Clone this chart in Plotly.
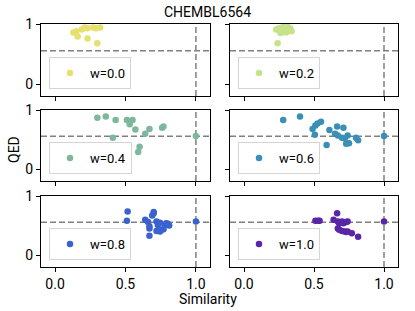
import plotly.graph_objects as go

# ---- data ----
weights = ["w=0.0", "w=0.2", "w=0.4", "w=0.6", "w=0.8", "w=1.0"]
colors = ["#e6e16e", "#c6e38c", "#7db89c", "#3a8fb7", "#3a62cf", "#5b25a8"]

sim_w00 = [0.13, 0.15, 0.16, 0.19, 0.21, 0.23, 0.23, 0.27, 0.30, 0.29, 0.32]
qed_w00 = [0.86, 0.88, 0.79, 0.91, 0.94, 0.93, 0.76, 0.94, 0.68, 0.93, 0.94]

sim_w02 = [0.23, 0.26, 0.29, 0.33, 0.34, 0.28, 0.24, 0.25, 0.31, 0.27, 0.30]
qed_w02 = [0.91, 0.85, 0.88, 0.93, 0.88, 0.96, 0.68, 0.93, 0.96, 0.90, 0.86]

sim_w04 = [0.30, 0.36, 0.43, 0.51, 0.53, 0.55, 0.53, 0.57, 0.64, 0.67, 0.76, 0.77, 0.41, 0.60, 0.59, 1.0]
qed_w04 = [0.87, 0.89, 0.83, 0.83, 0.81, 0.83, 0.76, 0.67, 0.60, 0.68, 0.70, 0.72, 0.53, 0.38, 0.29, 0.56]

sim_w06 = [0.28, 0.40, 0.49, 0.51, 0.525, 0.55, 0.506, 0.59, 0.61, 0.65, 0.665, 0.71, 0.67, 0.70, 0.72,
           0.74, 0.73, 0.75, 0.80, 0.815, 1.0]
qed_w06 = [0.83, 0.89, 0.68, 0.74, 0.77, 0.80, 0.58, 0.41, 0.66, 0.60, 0.72, 0.70, 0.57, 0.53, 0.52,
           0.57, 0.43, 0.44, 0.53, 0.49, 0.56]

sim_w08 = [0.515, 0.51, 0.64, 0.66, 0.67, 0.67, 0.67, 0.69, 0.70, 0.70, 0.72, 0.73, 0.745, 0.757, 0.77,
           0.78, 0.79, 0.80, 0.81, 0.72, 0.745, 1.0]
qed_w08 = [0.74, 0.58, 0.60, 0.56, 0.45, 0.33, 0.49, 0.67, 0.71, 0.73, 0.57, 0.51, 0.55, 0.43, 0.44,
           0.51, 0.54, 0.53, 0.50, 0.41, 0.40, 0.57]

sim_w10 = [0.51, 0.53, 0.54, 0.64, 0.665, 0.67, 0.68, 0.70, 0.71, 0.73, 0.74, 0.67, 0.68, 0.70, 0.72,
           0.73, 0.74, 0.77, 0.815, 1.0]
qed_w10 = [0.58, 0.58, 0.58, 0.60, 0.71, 0.57, 0.54, 0.57, 0.54, 0.56, 0.57, 0.45, 0.43, 0.41, 0.40,
           0.39, 0.40, 0.37, 0.31, 0.57]

sims = [sim_w00, sim_w02, sim_w04, sim_w06, sim_w08, sim_w10]
qeds = [qed_w00, qed_w02, qed_w04, qed_w06, qed_w08, qed_w10]

ref_sim = 1.0
ref_qed = 0.555

x_ticks = [0.0, 0.5, 1.0]
x_ticktext = ["0.0", "0.5", "1.0"]
y_ticks = [0, 1]
y_ticktext = ["0", "1"]

# ---- layout geometry ----
W, H = 415, 311
ML, MR, MT, MB = 41, 17, 24, 44
PW = W - ML - MR
PH = H - MT - MB

col_px = [(41, 210), (230, 398)]
row_px = [(24, 96), (110, 181), (196, 267)]

def px2paper_x(px):
    return (px - ML) / PW

def px2paper_y(py):
    return (H - MB - py) / PH

FONT = "Roboto"
fig = go.Figure()
layout = dict(
    width=W, height=H,
    margin=dict(l=ML, r=MR, t=MT, b=MB),
    paper_bgcolor="white", plot_bgcolor="white",
    font=dict(family=FONT, size=14, color="black"),
    showlegend=True,
)
shapes = []

for i in range(6):
    r, c = divmod(i, 2)
    n = i + 1
    sfx = "" if n == 1 else str(n)
    xa, ya = "x" + sfx, "y" + sfx
    leg = "legend" + sfx
    fig.add_trace(go.Scatter(
        x=sims[i], y=qeds[i], mode="markers", name=weights[i],
        marker=dict(color=colors[i], size=6.5, line=dict(width=0)),
        xaxis=xa, yaxis=ya, legend=leg,
    ))
    x0, x1 = col_px[c]
    y0, y1 = row_px[r]
    layout["xaxis" + sfx] = dict(
        domain=[px2paper_x(x0), px2paper_x(x1)], anchor=ya,
        range=[-0.1, 1.1], tickvals=x_ticks, ticktext=x_ticktext,
        showticklabels=(r == 2), ticks="outside", ticklen=4, tickwidth=1, tickcolor="black",
        showline=True, linecolor="black", linewidth=1, mirror=True,
        showgrid=False, zeroline=False, tickfont=dict(size=14),
    )
    layout["yaxis" + sfx] = dict(
        domain=[px2paper_y(y1), px2paper_y(y0)], anchor=xa,
        range=[-0.2, 1.0], tickvals=y_ticks, ticktext=y_ticktext,
        showticklabels=(c == 0), ticks="outside", ticklen=4, tickwidth=1, tickcolor="black",
        showline=True, linecolor="black", linewidth=1, mirror=True,
        showgrid=False, zeroline=False, tickfont=dict(size=14),
    )
    layout[leg] = dict(
        x=px2paper_x(x0 + 8), y=px2paper_y(y1 - 7), xref="paper", yref="paper",
        xanchor="left", yanchor="bottom",
        bgcolor="rgba(255,255,255,0.8)", bordercolor="#d5d5d5", borderwidth=1,
        font=dict(size=13, family=FONT), itemsizing="trace", itemwidth=30,
        tracegroupgap=0,
    )
    shapes.append(dict(type="line", xref=xa, yref=ya + " domain", x0=ref_sim, x1=ref_sim, y0=0, y1=1,
                       line=dict(color="#808080", width=1.5, dash="6px,3px"), layer="below"))
    shapes.append(dict(type="line", xref=xa + " domain", yref=ya, x0=0, x1=1, y0=ref_qed, y1=ref_qed,
                       line=dict(color="#808080", width=1.5, dash="6px,3px"), layer="below"))

layout["shapes"] = shapes
layout["title"] = dict(text="CHEMBL6564", x=0.5, xref="container", y=1 - 12 / H, yref="container",
                       xanchor="center", yanchor="middle", font=dict(size=14, family=FONT))
layout["annotations"] = [
    dict(text="Similarity", xref="paper", yref="paper", x=px2paper_x(207.5), y=px2paper_y(299),
         xanchor="center", yanchor="middle", showarrow=False, font=dict(size=14)),
    dict(text="QED", xref="paper", yref="paper", x=px2paper_x(14), y=px2paper_y(150),
         xanchor="center", yanchor="middle", showarrow=False, textangle=-90, font=dict(size=14)),
]
fig.update_layout(**layout)
fig.write_html("out.html", config={"displayModeBar": False},
               post_script="document.body.style.margin='0';")
